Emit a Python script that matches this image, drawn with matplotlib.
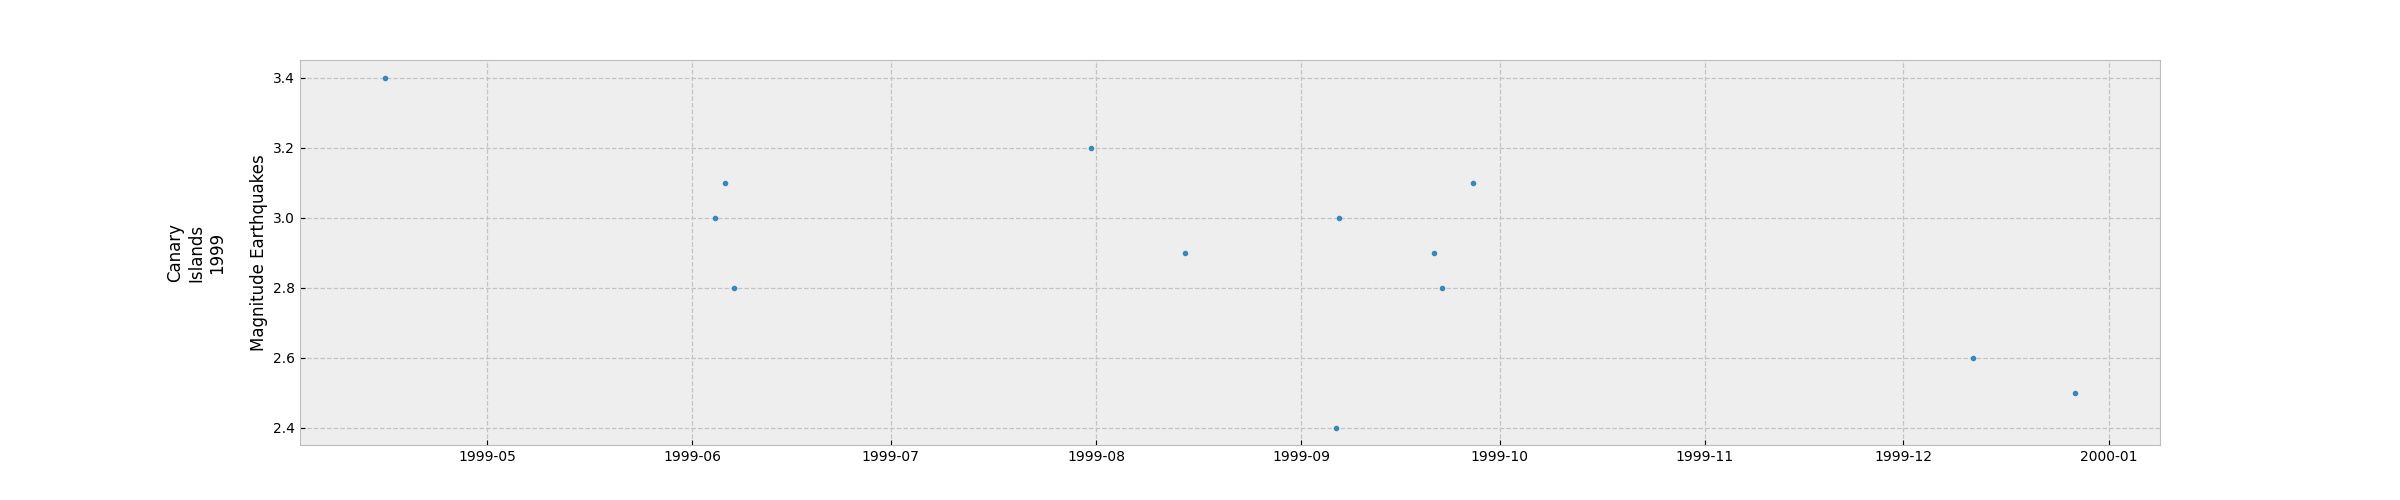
import pandas as pd
import matplotlib
matplotlib.use("Agg")
import matplotlib.pyplot as plt

# ========== DATA ==========
dates = ["1999-04-15 12:00", "1999-06-04 12:00", "1999-06-06 00:00", "1999-06-07 06:00",
         "1999-07-31 06:00", "1999-08-14 12:00", "1999-09-06 06:00", "1999-09-06 18:00",
         "1999-09-21 00:00", "1999-09-22 06:00", "1999-09-27 00:00", "1999-12-11 12:00",
         "1999-12-27 00:00"]
magnitudes = [3.4, 3.0, 3.1, 2.8, 3.2, 2.9, 2.4, 3.0, 2.9, 2.8, 3.1, 2.6, 2.5]

dates = pd.to_datetime(dates, format="%Y-%m-%d %H:%M")

# ========== PLOT ==========
plt.style.use("bmh")
fig, ax = plt.subplots(figsize=(24, 5), dpi=100)

ax.plot(dates, magnitudes, ".", linestyle="none")
ax.set_ylabel("Magnitude Earthquakes")
ax.grid(True, linestyle="--", linewidth=0.9, color="#c4c4c4")
fig.text(0.0817, 0.494, "Canary\nIslands\n1999", rotation=90, fontsize=12,
         ha="center", va="center", multialignment="center")

plt.savefig("out.png", dpi=100)
